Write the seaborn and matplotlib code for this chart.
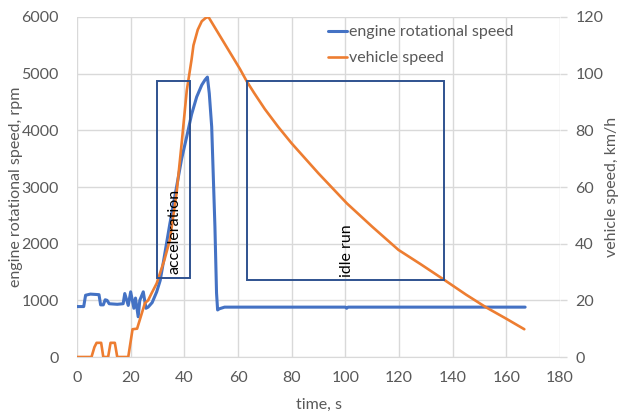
import numpy as np
import pandas as pd
import seaborn as sns
import matplotlib.pyplot as plt
from matplotlib.patches import Rectangle

# engine speed, rpm
time_rpm = [0, 2.5, 3.2, 5, 8.2, 8.8, 9.8, 10.5, 11.2, 12, 15, 17.2, 17.8,
            19.1, 20, 21.2, 21.8, 22.8, 23.4, 24.7, 25.7, 26.5, 28, 29.7,
            31, 32.1, 34.6, 37.1, 39, 40.9, 42.7, 44.6, 46.5, 47.7, 48.6,
            49.3, 50.2, 51.4, 52, 52.4, 53, 55, 100, 100.5, 101, 167]
rpm = [890, 890, 1090, 1110, 1100, 920, 920, 1010, 1000, 940, 930, 940, 1120,
       910, 1150, 860, 1040, 710, 1000, 1150, 860, 880, 960, 1150,
       1350, 1650, 2350, 3000, 3500, 3890, 4280, 4590, 4800, 4890, 4940,
       4650, 4060, 2300, 1130, 830, 850, 880, 880, 860, 880, 880]

# vehicle speed, km/h
time_kmh = [0, 5.4, 6.5, 7.3, 9.0, 9.8, 11.6, 12.5, 14.1, 15, 19.1, 20.7,
            22.4, 25.3, 26.5, 27.8, 29.7, 30.9, 32.5, 34.6, 37.1, 39, 40.9,
            42.7, 43.4, 45, 46.5, 48, 49, 54.5, 60.7, 63.2, 66, 70, 75, 80,
            90, 100.6, 110, 119.8, 128, 136.9, 145, 152.5, 160, 166.7]
kmh = [0, 0, 3.5, 5, 5, 0, 0, 5, 5, 0, 0, 9.8,
       10, 19, 20, 22.5, 26, 29.5, 34, 41.3, 57.8, 75.4, 94,
       105, 110, 115.5, 118.5, 119.7, 120, 111.4, 101.7, 97.4, 93.2, 87.5, 81.2, 75.4,
       64.8, 54.2, 46, 37.8, 32.8, 27.2, 22, 17.5, 13.5, 9.8]

# annotation boxes: t0, t1, rpm0, rpm1
acc_box = [29.9, 42.1, 1390, 4870]
idle_box = [63.2, 136.9, 1360, 4870]

x_ticks = list(range(0, 181, 20))
rpm_ticks = list(range(0, 6001, 1000))
kmh_ticks = list(range(0, 121, 20))

blue = "#4472C4"
orange = "#ED7D31"
box_col = "#2F528F"
grey = "#595959"
grid_col = "#D9D9D9"
fs = 11.5

sns.set_style("white")
plt.rcParams["font.family"] = ["Lato", "DejaVu Sans"]
plt.rcParams["font.size"] = fs

df_rpm = pd.DataFrame({"time": time_rpm, "rpm": rpm})
df_kmh = pd.DataFrame({"time": time_kmh, "kmh": kmh})

fig = plt.figure(figsize=(6.22, 4.15), dpi=100)
ax = fig.add_axes([77 / 622, 1 - 357 / 415, (560 - 77) / 622, (357 - 17) / 415])
ax2 = ax.twinx()

sns.lineplot(data=df_rpm, x="time", y="rpm", ax=ax, color=blue, lw=2.2,
             label="engine rotational speed", legend=False)
sns.lineplot(data=df_kmh, x="time", y="kmh", ax=ax2, color=orange, lw=1.9,
             label="vehicle speed", legend=False)

ax.set_xlim(0, 180)
ax.set_ylim(0, 6000)
ax2.set_ylim(0, 120)
ax.set_xticks(x_ticks)
ax.set_yticks(rpm_ticks)
ax2.set_yticks(kmh_ticks)

ax.grid(True, color=grid_col, lw=1)
ax.set_axisbelow(True)
for s in ["left", "right", "top"]:
    ax.spines[s].set_visible(False)
ax.spines["bottom"].set_color(grid_col)
for s in ax2.spines.values():
    s.set_visible(False)

ax.tick_params(axis="x", length=0, pad=10, colors=grey, labelsize=fs)
ax.tick_params(axis="y", length=0, pad=13, colors=grey, labelsize=fs)
ax2.tick_params(axis="y", length=5, width=1, color=grid_col, pad=6,
                labelcolor=grey, labelsize=fs)

ax.set_xlabel("time, s", color=grey, fontsize=fs)
ax.xaxis.set_label_coords(0.5, -(405 - 357) / 340)
ax.xaxis.label.set_va("center")
ax.set_ylabel("engine rotational speed, rpm", color=grey, fontsize=fs)
ax.yaxis.set_label_coords((16 - 77) / 483, 0.5)
ax.yaxis.label.set_va("center")
ax2.set_ylabel("vehicle speed, km/h", color=grey, fontsize=fs)
ax2.yaxis.set_label_coords((612 - 77) / 483, 0.5)
ax2.yaxis.label.set_va("center")

# boxes and text on top
for t0, t1, r0, r1 in [acc_box, idle_box]:
    ax2.add_patch(Rectangle((t0, r0), t1 - t0, r1 - r0, fill=False,
                            ec=box_col, lw=1.4, transform=ax.transData, zorder=5))
ax2.text(36.4, 1470, "acceleration", rotation=90, ha="center", va="bottom",
         fontsize=fs, color="black", transform=ax.transData, zorder=6)
ax2.text(100.5, 1410, "idle run", rotation=90, ha="center", va="bottom",
         fontsize=fs, color="black", transform=ax.transData, zorder=6)

handles = ax.get_lines()[:1] + ax2.get_lines()[:1]
fig.legend(handles, ["engine rotational speed", "vehicle speed"],
           loc="upper left", bbox_to_anchor=(328 / 622, 1 - 25 / 415),
           frameon=False, handlelength=1.2, handletextpad=0.12,
           labelspacing=0.75, borderpad=0, borderaxespad=0,
           fontsize=fs, labelcolor=grey)

plt.savefig("out.png", dpi=100)
